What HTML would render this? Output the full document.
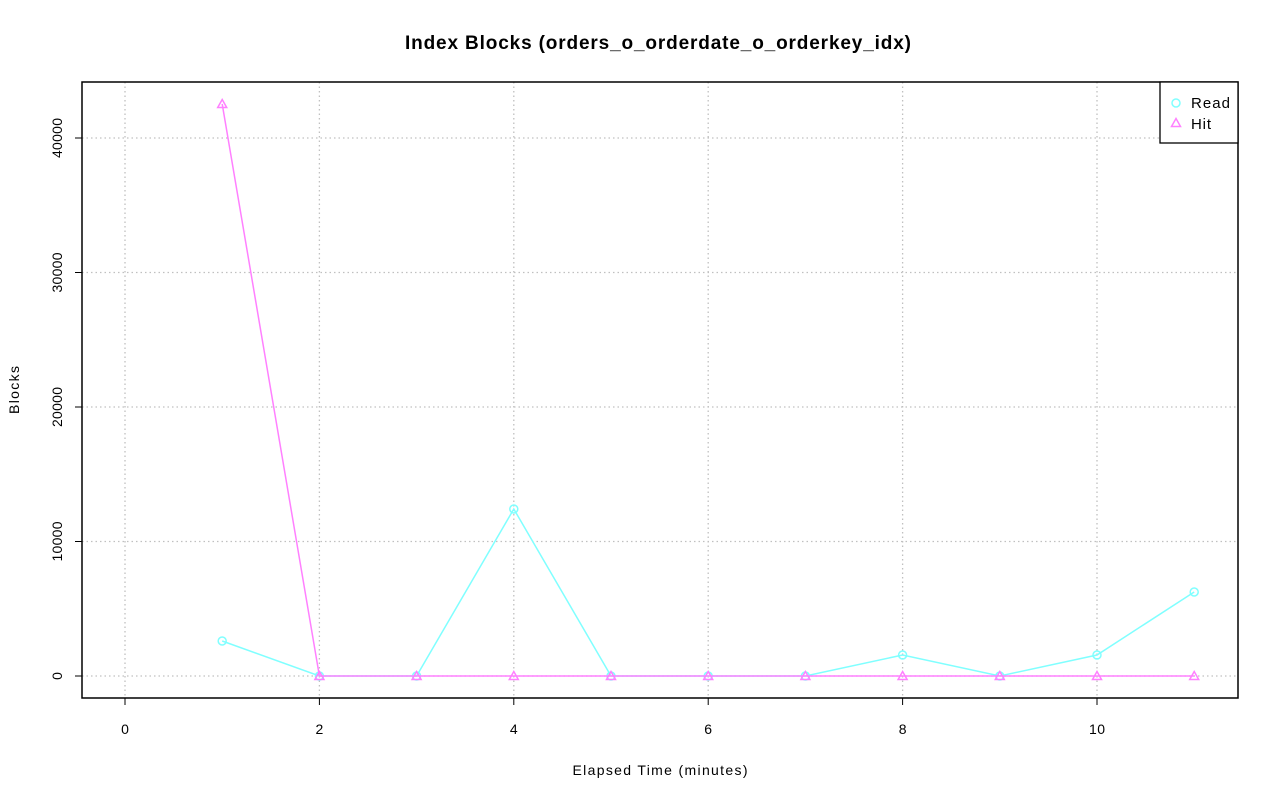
<!DOCTYPE html>
<html><head><style>body{margin:0;background:#fff}svg{display:block}text{font-family:"Liberation Sans",sans-serif;fill:#000}</style></head>
<body>
<svg width="1280" height="801" viewBox="0 0 1280 801">
<rect width="1280" height="801" fill="#fff"/>
<g stroke="#c0c0c0" stroke-dasharray="1.5,3" stroke-width="1.3">
<line x1="125" y1="82" x2="125" y2="698"/><line x1="319.4" y1="82" x2="319.4" y2="698"/>
<line x1="513.8" y1="82" x2="513.8" y2="698"/><line x1="708.2" y1="82" x2="708.2" y2="698"/>
<line x1="902.6" y1="82" x2="902.6" y2="698"/><line x1="1097" y1="82" x2="1097" y2="698"/>
<line x1="82" y1="676" x2="1238" y2="676"/><line x1="82" y1="541.5" x2="1238" y2="541.5"/>
<line x1="82" y1="407" x2="1238" y2="407"/><line x1="82" y1="272.5" x2="1238" y2="272.5"/>
<line x1="82" y1="138" x2="1238" y2="138"/>
</g>
<polyline fill="none" stroke="#80ffff" stroke-width="1.5" points="222.2,641 319.4,676 416.6,676 513.8,509 611,676 708.2,676 805.4,676 902.6,655 999.8,676 1097,655 1194.2,592"/>
<g fill="none" stroke="#80ffff" stroke-width="1.5">
<circle cx="222.2" cy="641" r="4"/><circle cx="319.4" cy="676" r="4"/><circle cx="416.6" cy="676" r="4"/><circle cx="513.8" cy="509" r="4"/><circle cx="611" cy="676" r="4"/><circle cx="708.2" cy="676" r="4"/><circle cx="805.4" cy="676" r="4"/><circle cx="902.6" cy="655" r="4"/><circle cx="999.8" cy="676" r="4"/><circle cx="1097" cy="655" r="4"/><circle cx="1194.2" cy="592" r="4"/>
</g>
<polyline fill="none" stroke="#ff80ff" stroke-width="1.5" points="222.2,104 319.4,676 416.6,676 513.8,676 611,676 708.2,676 805.4,676 902.6,676 999.8,676 1097,676 1194.2,676"/>
<g fill="none" stroke="#ff80ff" stroke-width="1.5">
<path d="M222.2,99.5l4.5,8h-9z"/><path d="M319.4,671.5l4.5,8h-9z"/><path d="M416.6,671.5l4.5,8h-9z"/><path d="M513.8,671.5l4.5,8h-9z"/><path d="M611,671.5l4.5,8h-9z"/><path d="M708.2,671.5l4.5,8h-9z"/><path d="M805.4,671.5l4.5,8h-9z"/><path d="M902.6,671.5l4.5,8h-9z"/><path d="M999.8,671.5l4.5,8h-9z"/><path d="M1097,671.5l4.5,8h-9z"/><path d="M1194.2,671.5l4.5,8h-9z"/>
</g>
<rect x="82" y="82" width="1156" height="616" fill="none" stroke="#000" stroke-width="1.5"/>
<rect x="1160" y="82" width="78" height="61" fill="#fff" stroke="#000" stroke-width="1.3"/>
<circle cx="1176" cy="103" r="4" fill="none" stroke="#80ffff" stroke-width="1.5"/>
<path d="M1176,118.5l4.5,8h-9z" fill="none" stroke="#ff80ff" stroke-width="1.5"/>
<text x="1191" y="108" font-size="15" textLength="39">Read</text>
<text x="1191" y="129" font-size="15" textLength="20">Hit</text>
<g stroke="#000" stroke-width="1">
<line x1="125" y1="698" x2="1097" y2="698"/>
<line x1="125" y1="698" x2="125" y2="705"/><line x1="319.4" y1="698" x2="319.4" y2="705"/><line x1="513.8" y1="698" x2="513.8" y2="705"/><line x1="708.2" y1="698" x2="708.2" y2="705"/><line x1="902.6" y1="698" x2="902.6" y2="705"/><line x1="1097" y1="698" x2="1097" y2="705"/>
<line x1="82" y1="138" x2="82" y2="676"/>
<line x1="75" y1="676" x2="82" y2="676"/><line x1="75" y1="541.5" x2="82" y2="541.5"/><line x1="75" y1="407" x2="82" y2="407"/><line x1="75" y1="272.5" x2="82" y2="272.5"/><line x1="75" y1="138" x2="82" y2="138"/>
</g>
<g font-size="14" text-anchor="middle">
<text x="125" y="734">0</text><text x="319.4" y="734">2</text><text x="513.8" y="734">4</text><text x="708.2" y="734">6</text><text x="902.6" y="734">8</text><text x="1097" y="734" textLength="16">10</text>
<text transform="translate(62,676) rotate(-90)">0</text>
<text transform="translate(62,541.5) rotate(-90)" textLength="40">10000</text>
<text transform="translate(62,407) rotate(-90)" textLength="40">20000</text>
<text transform="translate(62,272.5) rotate(-90)" textLength="40">30000</text>
<text transform="translate(62,138) rotate(-90)" textLength="40">40000</text>
<text x="660" y="775" textLength="175">Elapsed Time (minutes)</text>
<text transform="translate(19,390) rotate(-90)" textLength="48">Blocks</text>
</g>
<text x="658" y="49" font-size="19" font-weight="bold" text-anchor="middle" textLength="506">Index Blocks (orders_o_orderdate_o_orderkey_idx)</text>
</svg>
</body></html>
